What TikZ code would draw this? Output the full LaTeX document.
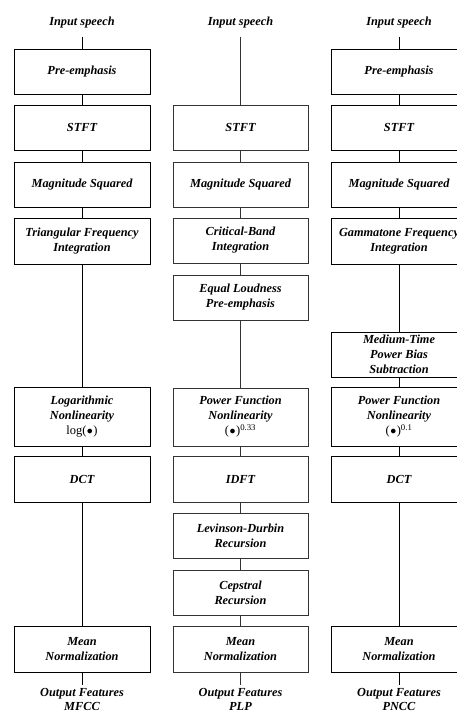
\documentclass[tikz,border=0pt]{standalone}
\usepackage{fontspec}
\setmainfont{Liberation Serif}
\begin{document}
\begin{tikzpicture}[x=1pt,y=-1pt,
  blk/.style={draw, line width=0.8pt, rectangle, minimum width=136pt, inner sep=0pt,
    align=center, font=\fontsize{12.3}{15}\selectfont\bfseries\itshape},
  lbl/.style={inner sep=0pt, align=center, font=\fontsize{12.3}{14}\selectfont\bfseries\itshape},
  cn/.style={line width=0.8pt},
  gcol/.style={draw=black!80}]
\useasboundingbox (0,0) rectangle (457,713);
\clip (0,0) rectangle (457,713);
\newcommand{\rg}{\normalfont\fontsize{12.5}{15}\selectfont}
\newcommand{\bl}{\kern0.5pt$\bullet$\kern0.5pt}
% ---------- column 1 (MFCC)
\node[lbl, anchor=base] (i1) at (82,25) {Input speech};
\node[blk, minimum height=45pt] (a1) at (82,71.5) {Pre-emphasis};
\node[blk, minimum height=45pt] (a2) at (82,127.5) {STFT};
\node[blk, minimum height=45pt] (a3) at (82,184.5) {Magnitude Squared};
\node[blk, minimum height=46pt] (a4) at (82,241) {Triangular Frequency\\Integration};
\node[blk, minimum height=59pt] (a5) at (82,416.5) {Logarithmic\\Nonlinearity\\{\rg log(\bl)}};
\node[blk, minimum height=46pt] (a6) at (82,479) {DCT};
\node[blk, minimum height=46pt] (a7) at (82,649) {Mean\\Normalization};
\node[lbl, anchor=north] (o1) at (82,688) {Output Features\\MFCC};
\draw[cn, shorten <=9pt] (i1) -- (a1);
\draw[cn] (a1) -- (a2);
\draw[cn] (a2) -- (a3);
\draw[cn] (a3) -- (a4);
\draw[cn] (a4) -- (a5);
\draw[cn] (a5) -- (a6);
\draw[cn] (a6) -- (a7);
\draw[cn, shorten >=3pt] (a7) -- (o1);
% ---------- column 2 (PLP)
\begin{scope}[every node/.append style={gcol}, cn/.append style={draw=black!80}]
\node[lbl, anchor=base, draw=none] (i2) at (240.5,25) {Input speech};
\node[blk, minimum height=45pt, minimum width=135pt] (b2) at (240.5,127.5) {STFT};
\node[blk, minimum height=45pt, minimum width=135pt] (b3) at (240.5,184.5) {Magnitude Squared};
\node[blk, minimum height=45pt, minimum width=135pt] (b4) at (240.5,240.5) {Critical-Band\\Integration};
\node[blk, minimum height=45pt, minimum width=135pt] (b5) at (240.5,297.5) {Equal Loudness\\Pre-emphasis};
\node[blk, minimum height=58pt, minimum width=135pt] (b6) at (240.5,417) {Power Function\\Nonlinearity\\{\rg (\bl)\textsuperscript{0.33}}};
\node[blk, minimum height=46pt, minimum width=135pt] (b7) at (240.5,479) {IDFT};
\node[blk, minimum height=45pt, minimum width=135pt] (b8) at (240.5,535.5) {Levinson-Durbin\\Recursion};
\node[blk, minimum height=45pt, minimum width=135pt] (b9) at (240.5,592.5) {Cepstral\\Recursion};
\node[blk, minimum height=46pt, minimum width=135pt] (b10) at (240.5,649) {Mean\\Normalization};
\node[lbl, anchor=north, draw=none] (o2) at (240.5,688) {Output Features\\PLP};
\draw[cn, shorten <=9pt] (i2) -- (b2);
\draw[cn] (b2) -- (b3);
\draw[cn] (b3) -- (b4);
\draw[cn] (b4) -- (b5);
\draw[cn] (b5) -- (b6);
\draw[cn] (b6) -- (b7);
\draw[cn] (b7) -- (b8);
\draw[cn] (b8) -- (b9);
\draw[cn] (b9) -- (b10);
\draw[cn, shorten >=3pt] (b10) -- (o2);
\end{scope}
% ---------- column 3 (PNCC)
\node[lbl, anchor=base] (i3) at (399,25) {Input speech};
\node[blk, minimum height=45pt] (c1) at (399,71.5) {Pre-emphasis};
\node[blk, minimum height=45pt] (c2) at (399,127.5) {STFT};
\node[blk, minimum height=45pt] (c3) at (399,184.5) {Magnitude Squared};
\node[blk, minimum height=46pt] (c4) at (399,241) {Gammatone Frequency\\Integration};
\node[blk, minimum height=45pt] (c5) at (399,354.5) {Medium-Time\\Power Bias\\Subtraction};
\node[blk, minimum height=59pt] (c6) at (399,416.5) {Power Function\\Nonlinearity\\{\rg (\bl)\textsuperscript{0.1}}};
\node[blk, minimum height=46pt] (c7) at (399,479) {DCT};
\node[blk, minimum height=46pt] (c8) at (399,649) {Mean\\Normalization};
\node[lbl, anchor=north] (o3) at (399,688) {Output Features\\PNCC};
\draw[cn, shorten <=9pt] (i3) -- (c1);
\draw[cn] (c1) -- (c2);
\draw[cn] (c2) -- (c3);
\draw[cn] (c3) -- (c4);
\draw[cn] (c4) -- (c5);
\draw[cn] (c5) -- (c6);
\draw[cn] (c6) -- (c7);
\draw[cn] (c7) -- (c8);
\draw[cn, shorten >=3pt] (c8) -- (o3);
\end{tikzpicture}
\end{document}
